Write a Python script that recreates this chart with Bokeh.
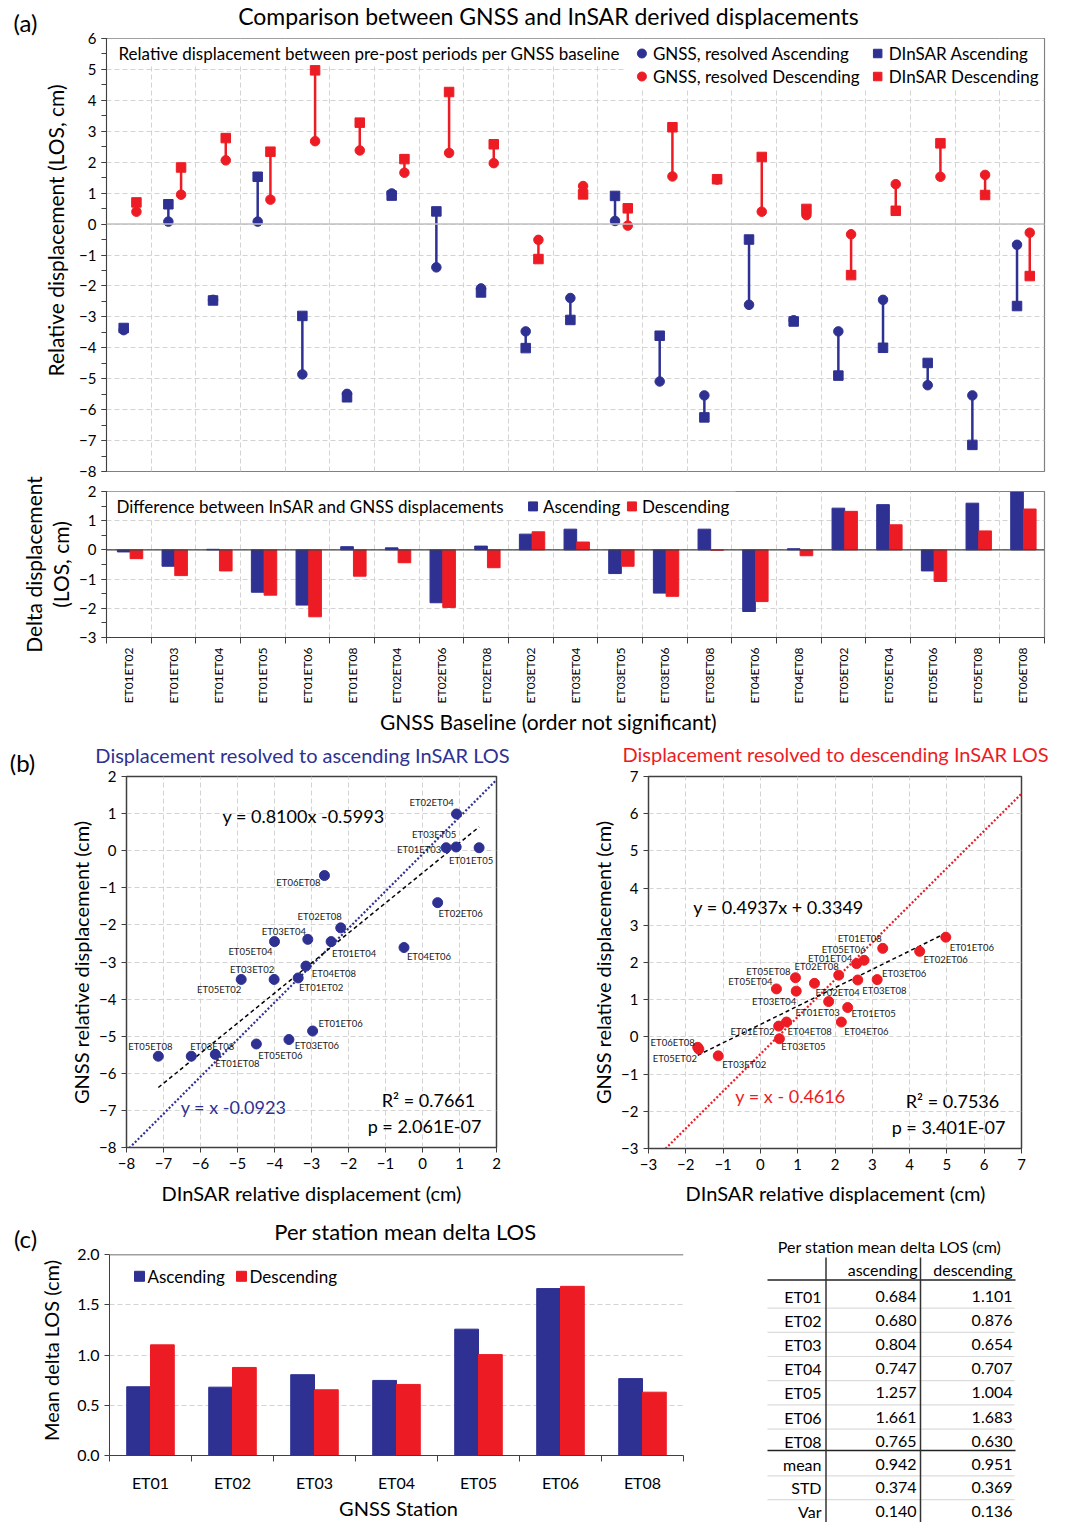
import math
import numpy as np
from bokeh.plotting import figure
from bokeh.models import (Range1d, Label, BoxAnnotation, Span, FixedTicker,
                          SingleIntervalTicker, Grid, NumeralTickFormatter)
from bokeh.layouts import column, row
from bokeh.embed import file_html
from bokeh.resources import INLINE
from bokeh.core.properties import value

# ---------------- data ----------------
baselines = ["ET01ET02", "ET01ET03", "ET01ET04", "ET01ET05", "ET01ET06", "ET01ET08",
             "ET02ET04", "ET02ET06", "ET02ET08", "ET03ET02", "ET03ET04", "ET03ET05",
             "ET03ET06", "ET03ET08", "ET04ET06", "ET04ET08", "ET05ET02", "ET05ET04",
             "ET05ET06", "ET05ET08", "ET06ET08"]
gnss_asc = [-3.43, 0.08, -2.45, 0.08, -4.86, -5.49, 0.99, -1.40, -2.08, -3.47, -2.39,
            0.10, -5.09, -5.54, -2.61, -3.11, -3.47, -2.45, -5.21, -5.54, -0.67]
insar_asc = [-3.36, 0.64, -2.47, 1.53, -2.97, -5.60, 0.92, 0.41, -2.21, -4.01, -3.10,
             0.91, -3.61, -6.25, -0.50, -3.15, -4.90, -4.00, -4.49, -7.14, -2.65]
gnss_desc = [0.40, 0.95, 2.06, 0.79, 2.68, 2.38, 1.66, 2.30, 1.97, -0.51, 1.23,
             -0.05, 1.54, 1.44, 0.40, 0.29, -0.33, 1.29, 1.53, 1.59, -0.28]
insar_desc = [0.70, 1.83, 2.78, 2.34, 4.97, 3.28, 2.10, 4.27, 2.58, -1.13, 0.96,
              0.51, 3.13, 1.45, 2.17, 0.49, -1.65, 0.43, 2.61, 0.94, -1.68]

fit_asc_slope, fit_asc_icpt = 0.8100, -0.5993
one_asc_offset = -0.0923
r2_asc, p_asc = "0.7661", "2.061E-07"
fit_desc_slope, fit_desc_icpt = 0.4937, 0.3349
one_desc_offset = -0.4616
r2_desc, p_desc = "0.7536", "3.401E-07"

stations = ["ET01", "ET02", "ET03", "ET04", "ET05", "ET06", "ET08"]
mean_asc = [0.684, 0.680, 0.804, 0.747, 1.257, 1.661, 0.765]
mean_desc = [1.101, 0.876, 0.654, 0.707, 1.004, 1.683, 0.630]
stat_names = ["mean", "STD", "Var"]
stat_asc = ["0.942", "0.374", "0.140"]
stat_desc = ["0.951", "0.369", "0.136"]

# ---------------- styles / label offsets (px) ----------------
FONT = "Lato"
BLUE = "#2E3192"
RED = "#ED1C24"
GRID_C = "#d3d3d3"
AXIS_C = "#404040"
SEP_C = "#d0d0d0"

lab_off_asc = {
    "ET02ET04": (-25, -11), "ET03ET05": (-22, -12), "ET01ET03": (-27, 2),
    "ET01ET05": (-8, 13), "ET06ET08": (-26, 7), "ET02ET06": (23, 11),
    "ET02ET08": (-21, -11), "ET03ET04": (-24, -8), "ET05ET04": (-24, 10),
    "ET01ET04": (23, 12), "ET04ET06": (25, 9), "ET03ET02": (-22, -10),
    "ET04ET08": (28, 7), "ET05ET02": (-22, 10), "ET01ET02": (23, 10),
    "ET01ET06": (28, -8), "ET03ET06": (28, 6), "ET05ET06": (24, 12),
    "ET01ET08": (22, 9), "ET03ET08": (21, -10), "ET05ET08": (-8, -10),
}
lab_off_desc = {
    "ET01ET06": (26, 10), "ET02ET06": (26, 8), "ET01ET08": (-23, -10),
    "ET05ET06": (-14, -30), "ET01ET04": (-34, -2), "ET02ET08": (-40, 3),
    "ET03ET06": (27, -6), "ET03ET08": (70, 7), "ET02ET04": (-1, 17),
    "ET05ET08": (-27, -6), "ET05ET04": (-26, -7), "ET03ET04": (-22, 10),
    "ET01ET03": (-11, 11), "ET01ET05": (26, 6), "ET04ET06": (25, 9),
    "ET01ET02": (-34, 9), "ET04ET08": (31, 5), "ET03ET05": (24, 8),
    "ET03ET02": (26, 9), "ET06ET08": (-25, -5), "ET05ET02": (-24, 9),
}
TF = value(FONT)


def no_align(p):
    try:
        p.frame_align = False
    except Exception:
        pass


def mkfig(w, h, xr, yr, bl, br, bt, bb, **kw):
    p = figure(width=w, height=h, x_range=Range1d(*xr), y_range=Range1d(*yr),
               output_backend="svg", toolbar_location=None,
               min_border_left=bl, min_border_right=br, min_border_top=bt,
               min_border_bottom=bb, **kw)
    p.background_fill_color = "white"
    p.border_fill_color = "white"
    no_align(p)
    return p


def strip(x0, x1, y0, y1, fill="white"):
    """A blank panel whose data coordinates are the page pixels it covers."""
    s = figure(width=x1 - x0, height=y1 - y0, x_range=Range1d(x0, x1),
               y_range=Range1d(y1, y0), x_axis_type=None, y_axis_type=None,
               output_backend="svg", toolbar_location=None, min_border=0)
    s.outline_line_color = None
    s.background_fill_color = fill
    s.border_fill_color = fill
    no_align(s)
    return s


def stext(s, x, y, text, size, color="black", align="center", angle=0.0):
    s.text(x=[x], y=[y], text=[text], text_font=TF, text_font_size=f"{size}px",
           text_color=color, text_align=align, text_baseline="middle", angle=angle)


def page_conv(fl, ft, fw, fh, xr, yr):
    def fx(px):
        return xr[0] + (px - fl) / fw * (xr[1] - xr[0])

    def fy(py):
        return yr[1] - (py - ft) / fh * (yr[1] - yr[0])
    return fx, fy


def label(p, x, y, text, size, color="black", align="left"):
    p.add_layout(Label(x=x, y=y, text=text, text_font=FONT, text_font_size=f"{size}px",
                       text_color=color, text_align=align, text_baseline="middle"))


def style_axis(ax, size):
    ax.major_label_text_font = FONT
    ax.major_label_text_font_size = f"{size}px"
    ax.major_label_text_color = "black"
    ax.axis_line_color = AXIS_C
    ax.major_tick_line_color = AXIS_C
    ax.minor_tick_line_color = AXIS_C
    ax.major_tick_in = 0
    ax.minor_tick_in = 0


def white_box(p, fx, fy, l, r, t, b):
    p.add_layout(BoxAnnotation(left=fx(l), right=fx(r), top=fy(t), bottom=fy(b),
                               fill_color="white", fill_alpha=1.0, line_color=None,
                               level="underlay"))


OFF_A, OFF_D = -0.115, 0.17
idx = list(range(len(baselines)))
xa = [i + OFF_A for i in idx]
xd = [i + OFF_D for i in idx]

# ================= (a) =================
lblA = strip(0, 76, 0, 706)
stext(lblA, 25, 22, "(a)", 24)
stext(lblA, 55, 230, "Relative displacement (LOS, cm)", 21, angle=math.pi / 2)
stext(lblA, 33, 564, "Delta displacement", 21, angle=math.pi / 2)
stext(lblA, 60, 564, "(LOS, cm)", 21, angle=math.pi / 2)
hdrA = strip(76, 1089, 0, 29)
stext(hdrA, 548, 15, "Comparison between GNSS and InSAR derived displacements", 23)

xr_a = (-0.5, 20.5)
pa = mkfig(1013, 452, xr_a, (-8, 6), 29, 45, 9, 10, x_axis_type=None)
fxa, fya = page_conv(105, 38, 939, 433, xr_a, (-8, 6))
pa.yaxis.ticker = SingleIntervalTicker(interval=1, num_minor_ticks=2)
style_axis(pa.yaxis[0], 15)
pa.yaxis.major_tick_out = 5
pa.yaxis.minor_tick_out = 5
pa.ygrid.grid_line_color = GRID_C
pa.ygrid.grid_line_dash = "5 3"
pa.add_layout(Grid(dimension=0, ticker=FixedTicker(ticks=[k + 0.5 for k in range(20)]),
                   grid_line_color=GRID_C, grid_line_dash="5 3"))
pa.outline_line_color = "#808080"
pa.outline_line_width = 1.2
pa.add_layout(Span(location=0, dimension="width", line_color="#bfbfbf", line_width=1.5))
white_box(pa, fxa, fya, 106, 625, 38, 64)
white_box(pa, fxa, fya, 625, 1043, 38, 88)

pa.segment(x0=xa, y0=gnss_asc, x1=xa, y1=insar_asc, line_color=BLUE, line_width=2.5)
pa.segment(x0=xd, y0=gnss_desc, x1=xd, y1=insar_desc, line_color=RED, line_width=2.5)
pa.scatter(xa, gnss_asc, marker="circle", size=9.5, color=BLUE)
pa.scatter(xd, gnss_desc, marker="circle", size=9.5, color=RED)
pa.scatter(xa, insar_asc, marker="square", size=9.5, color=BLUE)
pa.scatter(xd, insar_desc, marker="square", size=9.5, color=RED)

label(pa, fxa(117), fya(53), "Relative displacement between pre-post periods per GNSS baseline", 17)
pa.scatter([fxa(641)], [fya(53)], marker="circle", size=9, color=BLUE)
pa.scatter([fxa(641)], [fya(76)], marker="circle", size=9, color=RED)
pa.scatter([fxa(877)], [fya(53)], marker="square", size=8.5, color=BLUE)
pa.scatter([fxa(877)], [fya(76)], marker="square", size=8.5, color=RED)
label(pa, fxa(652), fya(53), "GNSS, resolved Ascending", 17)
label(pa, fxa(652), fya(76), "GNSS, resolved Descending", 17)
label(pa, fxa(888), fya(53), "DInSAR Ascending", 17)
label(pa, fxa(888), fya(76), "DInSAR Descending", 17)

# (a) bottom
pb = mkfig(1013, 225, xr_a, (-3, 2), 29, 45, 10, 68)
fxb, fyb = page_conv(105, 491, 939, 147, xr_a, (-3, 2))
pb.yaxis.ticker = SingleIntervalTicker(interval=1, num_minor_ticks=2)
style_axis(pb.yaxis[0], 15)
pb.yaxis.major_tick_out = 5
pb.yaxis.minor_tick_out = 5
pb.xaxis.ticker = FixedTicker(ticks=idx, minor_ticks=[k + 0.5 for k in range(-1, 21)])
pb.xaxis.major_label_overrides = {i: b for i, b in enumerate(baselines)}
style_axis(pb.xaxis[0], 12)
pb.xaxis.major_label_orientation = math.pi / 2
pb.xaxis.major_label_standoff = 4
pb.xaxis.major_tick_out = 0
pb.xaxis.minor_tick_out = 6
pb.xgrid.ticker = FixedTicker(ticks=[k + 0.5 for k in range(20)])
pb.grid.grid_line_color = GRID_C
pb.grid.grid_line_dash = "5 3"
pb.outline_line_color = "#808080"
pb.outline_line_width = 1.2
white_box(pb, fxb, fyb, 106, 735, 491, 519)
delta_asc = (np.array(gnss_asc) - np.array(insar_asc)).round(2)
delta_desc = (np.array(gnss_desc) - np.array(insar_desc)).round(2)
pb.vbar(x=xa, top=delta_asc, bottom=0, width=0.283, color=BLUE)
pb.vbar(x=xd, top=delta_desc, bottom=0, width=0.283, color=RED)
pb.add_layout(Span(location=0, dimension="width", line_color=AXIS_C, line_width=1.3))
label(pb, fxb(115), fyb(506), "Difference between InSAR and GNSS displacements", 17)
pb.scatter([fxb(532)], [fyb(506)], marker="square", size=9, color=BLUE)
pb.scatter([fxb(631)], [fyb(506)], marker="square", size=9, color=RED)
label(pb, fxb(542), fyb(506), "Ascending", 17)
label(pb, fxb(641), fyb(506), "Descending", 17)

xlabA = strip(0, 1089, 706, 735)
stext(xlabA, 548, 721, "GNSS Baseline (order not significant)", 21)
sep1 = strip(0, 1089, 735, 737, fill=SEP_C)


# ================= (b) =================
def scatter_panel(cx0, cx1, xr, yr, fl, fw, fh, xs, ys, offs, color, slope, icpt, offset,
                  eq_pos, one_pos, r2_pos, r2, pv, eq_text, one_text):
    w = cx1 - cx0
    p = mkfig(w, 410, xr, yr, fl - cx0, cx1 - (fl + fw), 10, 410 - 10 - fh)
    fx, fy = page_conv(fl, 776, fw, fh, xr, yr)
    for ax in (p.xaxis[0], p.yaxis[0]):
        ax.ticker = SingleIntervalTicker(interval=1, num_minor_ticks=0)
        style_axis(ax, 15)
        ax.major_tick_out = 5
    p.grid.grid_line_color = GRID_C
    p.grid.grid_line_dash = "5 3"
    p.outline_line_color = AXIS_C
    p.outline_line_width = 1.5
    lx = np.array([xr[0], xr[1]])
    p.line(lx, lx + offset, line_color=color, line_dash="2 2", line_width=2.2)
    fxs = np.array([min(xs), max(xs)])
    p.line(fxs, slope * fxs + icpt, line_color="black", line_dash="4 3", line_width=1.5)
    p.scatter(xs, ys, marker="circle", size=10, color=color)
    ppx = fw / (xr[1] - xr[0])
    ppy = fh / (yr[1] - yr[0])
    tx = [x + offs[n][0] / ppx for x, n in zip(xs, baselines)]
    ty = [y - offs[n][1] / ppy for y, n in zip(ys, baselines)]
    p.text(x=tx, y=ty, text=baselines, text_font=TF, text_font_size="9.5px",
           text_align="center", text_baseline="middle", text_color="#1a1a1a")
    label(p, fx(eq_pos[0]), fy(eq_pos[1]), eq_text, 18, align="center")
    label(p, fx(one_pos[0]), fy(one_pos[1]), one_text, 18, color=color, align="center")
    label(p, fx(r2_pos[0]), fy(r2_pos[1]), "R\u00b2 = " + r2, 18, align="center")
    label(p, fx(r2_pos[0] - 4), fy(r2_pos[1] + 26), "p = " + pv, 18, align="center")
    return p


pb1 = scatter_panel(94, 548, (-8, 2), (-8, 2), 126, 370, 371, insar_asc, gnss_asc,
                    lab_off_asc, BLUE, fit_asc_slope, fit_asc_icpt, one_asc_offset,
                    (303, 815), (233, 1106), (428, 1099), r2_asc, p_asc,
                    f"y = {fit_asc_slope:.4f}x {fit_asc_icpt:.4f}",
                    f"y = x {one_asc_offset:.4f}")
pb2 = scatter_panel(616, 1089, (-3, 7), (-3, 7), 648, 373, 372, insar_desc, gnss_desc,
                    lab_off_desc, RED, fit_desc_slope, fit_desc_icpt, one_desc_offset,
                    (778, 906), (790, 1095), (952, 1100), r2_desc, p_desc,
                    f"y = {fit_desc_slope:.4f}x + {fit_desc_icpt:.4f}",
                    f"y = x - {abs(one_desc_offset):.4f}")
lblB1 = strip(0, 94, 737, 1176)
stext(lblB1, 22, 762, "(b)", 24)
stext(lblB1, 80, 962, "GNSS relative displacement (cm)", 20, angle=math.pi / 2)
tB1 = strip(94, 548, 737, 766)
stext(tB1, 302, 754, "Displacement resolved to ascending InSAR LOS", 20, color=BLUE)
lblB2 = strip(548, 616, 737, 1176)
stext(lblB2, 602, 962, "GNSS relative displacement (cm)", 20, angle=math.pi / 2)
tB2 = strip(616, 1089, 737, 766)
stext(tB2, 835, 753, "Displacement resolved to descending InSAR LOS", 20, color=RED)
xlabB = strip(0, 1089, 1176, 1213)
stext(xlabB, 311, 1192, "DInSAR relative displacement (cm)", 20)
stext(xlabB, 835, 1192, "DInSAR relative displacement (cm)", 20)
sep2 = strip(0, 1089, 1213, 1215, fill=SEP_C)

# ================= (c) bar chart =================
lblC = strip(0, 70, 1215, 1494)
stext(lblC, 25, 1238, "(c)", 24)
stext(lblC, 50, 1350, "Mean delta LOS (cm)", 20, angle=math.pi / 2)
tC = strip(70, 740, 1215, 1244)
stext(tC, 405, 1231, "Per station mean delta LOS", 22)

xr_c = (-0.5, 6.5)
pc = mkfig(670, 250, xr_c, (0, 2), 39, 57, 10, 37)
fxc, fyc = page_conv(109, 1254, 574, 203, xr_c, (0, 2))
sidx = list(range(len(stations)))
pc.yaxis.ticker = SingleIntervalTicker(interval=0.5, num_minor_ticks=0)
pc.yaxis.formatter = NumeralTickFormatter(format="0.0")
style_axis(pc.yaxis[0], 16)
pc.yaxis.major_tick_out = 5
pc.xaxis.ticker = FixedTicker(ticks=sidx, minor_ticks=[k + 0.5 for k in range(-1, 7)])
pc.xaxis.major_label_overrides = {i: s for i, s in enumerate(stations)}
style_axis(pc.xaxis[0], 16)
pc.xaxis.major_tick_out = 0
pc.xaxis.minor_tick_out = 6
pc.xaxis.major_label_standoff = 11
pc.xgrid.visible = False
pc.ygrid.grid_line_color = GRID_C
pc.ygrid.grid_line_dash = "5 3"
pc.outline_line_color = None
pc.add_layout(Span(location=2, dimension="width", line_color=AXIS_C, line_width=1.3))
pc.vbar(x=[i - 0.145 for i in sidx], top=mean_asc, width=0.29, color=BLUE)
pc.vbar(x=[i + 0.145 for i in sidx], top=mean_desc, width=0.29, color=RED)
pc.scatter([fxc(139)], [fyc(1276)], marker="square", size=10, color=BLUE)
pc.scatter([fxc(241)], [fyc(1276)], marker="square", size=10, color=RED)
label(pc, fxc(147), fyc(1276), "Ascending", 17)
label(pc, fxc(249), fyc(1276), "Descending", 17)
xlabC = strip(0, 740, 1494, 1522)
stext(xlabC, 398, 1507, "GNSS Station", 20)

# ================= (c) table =================
pt = strip(740, 1089, 1215, 1522)
row_names = stations + stat_names
row_asc = [f"{v:.3f}" for v in mean_asc] + stat_asc
row_desc = [f"{v:.3f}" for v in mean_desc] + stat_desc
step = 24.2
row_y = [1295.5 + k * step for k in range(7)] + [1463.5 + k * 23.8 for k in range(3)]
sep_y = [(row_y[k] + row_y[k + 1]) / 2 for k in range(len(row_y) - 1) if k != 6]
pt.segment(x0=[767] * len(sep_y), y0=sep_y, x1=[1014] * len(sep_y), y1=sep_y,
           line_color="#dcdcdc", line_width=1.2)
pt.segment(x0=[767, 767], y0=[1279.5, 1450], x1=[1015, 1015], y1=[1279.5, 1450],
           line_color="#222222", line_width=1.6)
pt.segment(x0=[825.5, 920], y0=[1257, 1257], x1=[825.5, 920], y1=[1522, 1522],
           line_color="#333333", line_width=1.5)
pt.text(x=[889], y=[1246], text=["Per station mean delta LOS (cm)"], text_font=TF,
        text_font_size="16px", text_align="center", text_baseline="middle")
pt.text(x=[917, 1012], y=[1269, 1269], text=["ascending", "descending"], text_font=TF,
        text_font_size="16px", text_align="right", text_baseline="middle")
pt.text(x=[821] * len(row_y), y=row_y, text=row_names, text_font=TF, text_font_size="16px",
        text_align="right", text_baseline="middle")
pt.text(x=[916] * len(row_y), y=row_y, text=row_asc, text_font=TF, text_font_size="16px",
        text_align="right", text_baseline="middle")
pt.text(x=[1012] * len(row_y), y=row_y, text=row_desc, text_font=TF, text_font_size="16px",
        text_align="right", text_baseline="middle")

layout = column(
    row(lblA, column(hdrA, pa, pb)),
    xlabA,
    sep1,
    row(lblB1, column(tB1, pb1), lblB2, column(tB2, pb2)),
    xlabB,
    sep2,
    row(column(row(lblC, column(tC, pc)), xlabC), pt),
)
open("out.html", "w").write(file_html(layout, INLINE))
